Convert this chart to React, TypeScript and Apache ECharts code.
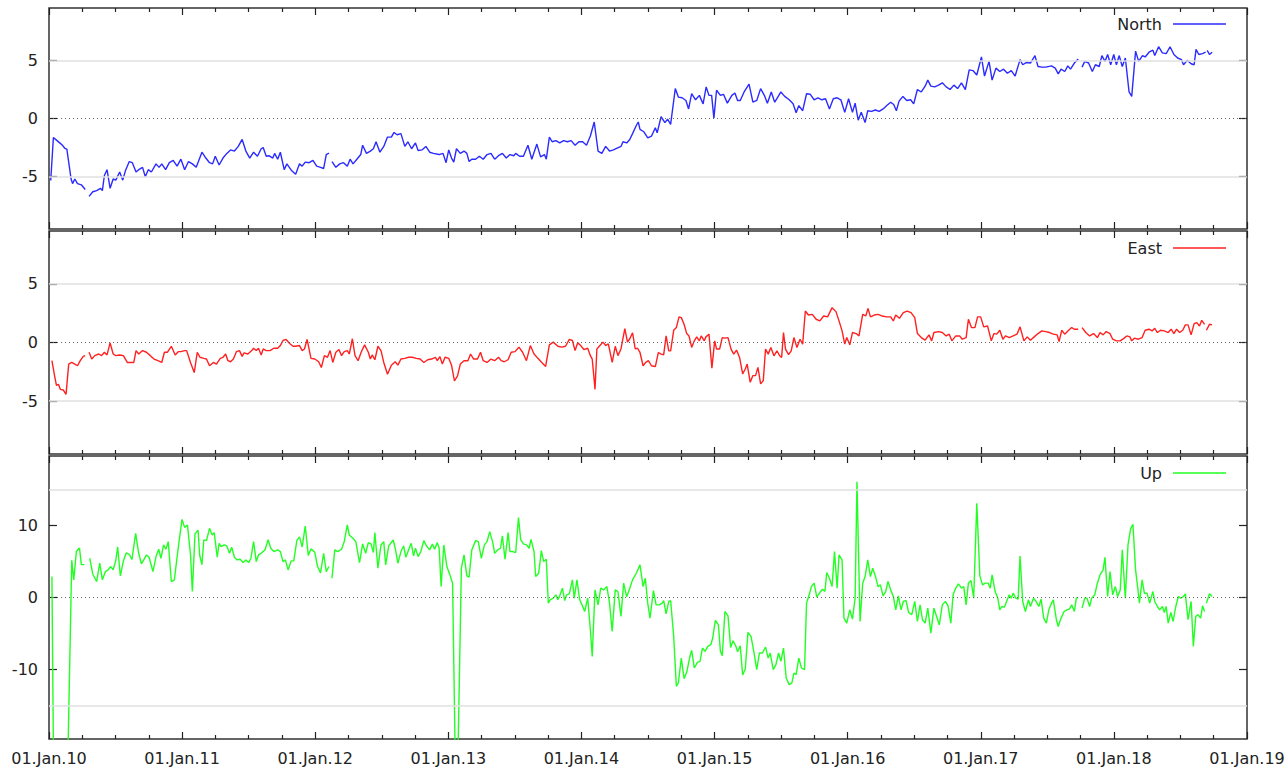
import React, { useEffect, useRef } from "react";
import * as echarts from "echarts";

// Time is given in years after START_YEAR; null marks a gap in the record.
const START_YEAR = 2010;
const END_YEAR = 2019;

const northData: [number, number | null][] = [
  [0.013,-5.33],[0.033,-1.64],[0.056,-1.86],[0.085,-2.14],[0.099,-2.28],[0.119,-2.56],[0.134,-2.64],[0.166,-5.2],[0.177,-5.6],[0.194,-5.2],[0.214,-5.6],[0.243,-5.7],[0.272,-6.1],[0.287,null],[0.301,-6.7],[0.329,-6.3],[0.358,-6.2],[0.387,-6.0],[0.401,-6.2],[0.416,-4.9],[0.436,-4.4],[0.459,-6.0],[0.482,-5.2],[0.502,-5.3],[0.531,-4.6],[0.554,-5.3],[0.574,-4.5],[0.603,-3.7],[0.626,-3.8],[0.654,-4.6],[0.674,-4.4],[0.703,-4.2],[0.723,-5.0],[0.746,-4.4],[0.769,-4.6],[0.804,-3.9],[0.827,-4.2],[0.847,-3.9],[0.876,-4.4],[0.904,-3.8],[0.933,-3.6],[0.962,-4.1],[0.991,-3.5],
  [1.019,-4.4],[1.048,-3.7],[1.077,-3.9],[1.106,-4.2],[1.149,-2.9],[1.178,-3.4],[1.206,-3.8],[1.229,-3.9],[1.249,-3.25],[1.278,-4.0],[1.307,-3.4],[1.336,-3.0],[1.364,-2.7],[1.393,-2.8],[1.422,-2.4],[1.451,-1.8],[1.479,-2.8],[1.508,-3.4],[1.537,-2.9],[1.566,-3.25],[1.594,-2.6],[1.609,-2.5],[1.632,-3.25],[1.652,-3.2],[1.681,-3.4],[1.695,-3.0],[1.718,-3.5],[1.738,-2.9],[1.767,-4.4],[1.787,-3.9],[1.824,-4.5],[1.853,-4.8],[1.882,-3.9],[1.902,-4.1],[1.925,-3.75],[1.954,-3.8],[1.983,-3.6],
  [2.011,-4.1],[2.040,-4.2],[2.063,-4.3],[2.083,-3.1],[2.103,-2.97],[2.115,null],[2.126,-3.7],[2.155,-4.2],[2.184,-3.9],[2.213,-3.8],[2.241,-4.1],[2.262,-3.5],[2.284,-3.9],[2.313,-3.5],[2.342,-3.1],[2.356,-2.3],[2.385,-3.0],[2.414,-2.8],[2.437,-2.6],[2.457,-2.0],[2.486,-2.9],[2.515,-2.4],[2.543,-1.6],[2.572,-1.6],[2.592,-1.2],[2.615,-1.4],[2.644,-1.3],[2.673,-2.4],[2.696,-2.0],[2.724,-2.6],[2.753,-2.1],[2.773,-2.75],[2.802,-2.7],[2.831,-2.4],[2.860,-2.9],[2.888,-3.0],[2.931,-3.1],[2.960,-3.0],[2.983,-3.8],
  [3.003,-2.7],[3.024,-3.4],[3.041,-3.75],[3.061,-2.6],[3.090,-3.0],[3.118,-2.8],[3.139,-3.0],[3.156,-3.7],[3.176,-3.5],[3.205,-3.5],[3.233,-3.25],[3.262,-3.5],[3.291,-3.1],[3.320,-3.0],[3.348,-3.5],[3.377,-3.2],[3.406,-3.0],[3.435,-3.4],[3.463,-3.1],[3.492,-3.2],[3.506,-3.0],[3.535,-3.25],[3.564,-3.25],[3.598,-2.3],[3.627,-3.5],[3.665,-2.2],[3.693,-3.3],[3.722,-3.1],[3.736,-3.5],[3.759,-1.6],[3.780,-2.0],[3.808,-1.9],[3.837,-2.1],[3.866,-1.9],[3.894,-2.0],[3.923,-1.9],[3.952,-2.3],[3.981,-2.0],
  [4.009,-2.0],[4.038,-2.3],[4.067,-1.5],[4.096,-0.3],[4.125,-2.8],[4.153,-3.0],[4.182,-2.4],[4.211,-2.8],[4.240,-2.7],[4.268,-2.55],[4.297,-2.4],[4.312,-2.0],[4.340,-2.1],[4.363,-1.8],[4.384,-1.3],[4.412,-0.6],[4.427,-0.3],
  [4.440,-0.94],[4.469,-1.14],[4.498,-1.67],[4.526,-1.52],[4.555,-0.79],[4.569,-1.23],[4.598,0.15],[4.627,-0.35],[4.647,-0.06],[4.670,-0.5],[4.705,2.57],[4.728,1.84],[4.756,1.78],[4.785,1.55],[4.805,0.82],[4.828,2.13],[4.857,1.61],[4.886,1.99],[4.914,1.26],[4.937,2.72],[4.958,1.99],[4.978,1.99],[4.995,0.03],
  [5.015,2.43],[5.044,1.99],[5.067,2.08],[5.096,1.32],[5.130,1.99],[5.153,2.19],[5.173,1.55],[5.193,1.55],[5.222,2.28],[5.259,2.95],[5.288,1.40],[5.317,1.55],[5.346,2.57],[5.374,1.99],[5.397,1.32],[5.426,2.28],[5.452,1.40],[5.475,1.84],[5.498,2.28],[5.527,1.90],[5.561,1.61],[5.590,1.26],[5.613,0.50],[5.633,1.11],[5.662,0.67],[5.691,2.13],[5.719,2.08],[5.748,1.61],[5.777,1.78],[5.806,1.61],[5.834,1.70],[5.863,0.82],[5.892,1.70],[5.921,1.78],[5.949,1.61],[5.978,0.53],
  [6.007,1.70],[6.036,0.53],[6.056,1.32],[6.079,-0.15],[6.102,0.53],[6.131,-0.35],[6.151,0.67],[6.179,0.61],[6.208,0.73],[6.237,0.61],[6.266,0.82],[6.294,1.11],[6.323,1.40],[6.346,1.20],[6.366,0.67],[6.386,1.49],[6.415,1.90],[6.444,1.55],[6.473,1.61],[6.496,1.26],[6.524,2.49],[6.553,2.28],[6.582,2.78],[6.602,3.30],[6.625,2.78],[6.654,2.72],[6.683,2.87],[6.711,3.07],[6.740,2.72],[6.769,2.49],[6.798,2.87],[6.826,2.57],[6.855,3.07],[6.884,2.49],[6.913,4.18],[6.941,4.12],[6.970,3.74],
  [7.005,5.29],[7.028,3.65],[7.062,4.91],[7.085,3.30],[7.114,4.33],[7.143,4.04],[7.171,4.24],[7.200,3.89],[7.229,4.12],[7.258,3.65],[7.295,5.06],[7.315,4.62],[7.344,4.82],[7.373,4.77],[7.407,5.41],[7.430,4.47],[7.459,4.42],[7.488,4.42],[7.531,4.53],[7.559,4.33],[7.582,3.83],[7.603,4.24],[7.631,4.04],[7.654,4.53],[7.674,4.24],[7.703,4.77],[7.732,5.12],[7.746,null],[7.761,4.42],[7.781,4.91],[7.810,4.77],[7.838,4.04],[7.861,4.62],[7.890,4.47],[7.910,5.41],[7.933,4.91],[7.953,5.50],[7.976,4.62],
  [7.999,5.50],[8.019,4.62],[8.040,5.41],[8.063,4.47],[8.086,5.20],[8.114,2.28],[8.134,1.90],[8.163,5.79],[8.186,4.91],[8.215,5.41],[8.235,5.29],[8.264,5.70],[8.293,5.88],[8.307,5.41],[8.336,6.17],[8.364,5.64],[8.393,5.58],[8.422,6.17],[8.451,5.50],[8.479,5.20],[8.508,5.06],[8.523,4.62],[8.551,5.00],[8.580,4.71],[8.603,4.62],[8.617,5.94],[8.638,5.50],[8.666,5.58],[8.689,5.70],[8.695,null],[8.701,5.85],[8.718,5.50],[8.738,5.70],
];

const eastData: [number, number | null][] = [
  [0.022,-1.55],[0.042,-2.84],[0.056,-3.65],[0.071,-3.56],[0.085,-3.99],[0.108,-4.05],[0.128,-4.42],[0.148,-1.84],[0.171,-1.70],[0.194,-1.84],[0.214,-1.98],[0.235,-1.55],[0.257,-1.18],[0.272,-1.12],[0.287,null],[0.301,-0.83],[0.321,-1.41],[0.344,-1.12],[0.373,-0.98],[0.395,-1.12],[0.416,-0.83],[0.436,-1.06],[0.459,-0.03],[0.482,-0.98],[0.502,-1.12],[0.531,-1.06],[0.559,-1.12],[0.588,-1.70],[0.617,-1.70],[0.637,-1.70],[0.654,-0.69],[0.674,-0.98],[0.703,-0.69],[0.732,-0.83],[0.761,-1.12],[0.789,-1.41],[0.818,-1.55],[0.847,-1.70],[0.867,-0.83],[0.890,-0.83],[0.919,-0.32],[0.948,-1.06],[0.971,-0.78],[0.991,-0.78],
  [1.019,-0.69],[1.034,-0.69],[1.063,-1.70],[1.091,-2.56],[1.114,-0.83],[1.134,-1.26],[1.163,-1.35],[1.183,-1.41],[1.206,-1.98],[1.235,-1.70],[1.258,-1.84],[1.287,-1.35],[1.307,-1.26],[1.327,-0.98],[1.344,-1.55],[1.364,-1.64],[1.385,-1.41],[1.408,-0.78],[1.431,-0.69],[1.451,-1.18],[1.465,-0.89],[1.494,-0.98],[1.523,-0.69],[1.537,-0.49],[1.557,-0.69],[1.574,-0.49],[1.594,-1.06],[1.609,-0.55],[1.632,-0.69],[1.661,-0.69],[1.689,-0.49],[1.718,-0.49],[1.738,-0.26],[1.758,0.17],[1.781,0.26],[1.810,-0.11],[1.833,-0.32],[1.853,-0.32],[1.882,-0.26],[1.902,-0.69],[1.919,-0.55],[1.939,0.26],[1.968,-1.35],[1.997,-1.41],
  [2.026,-1.64],[2.046,-2.13],[2.069,-1.12],[2.092,-1.26],[2.112,-0.69],[2.132,-1.70],[2.155,-0.83],[2.178,-0.60],[2.198,-1.12],[2.218,-0.78],[2.241,-0.69],[2.256,-0.98],[2.279,0.32],[2.299,-1.12],[2.322,-1.55],[2.345,-0.83],[2.371,-0.20],[2.399,-0.83],[2.414,-1.41],[2.428,-1.06],[2.448,-1.47],[2.471,-0.32],[2.494,-0.69],[2.515,-1.70],[2.543,-2.70],[2.572,-1.93],[2.601,-1.64],[2.621,-1.93],[2.644,-1.41],[2.673,-1.35],[2.701,-1.26],[2.730,-1.26],[2.759,-1.35],[2.788,-1.41],[2.816,-1.70],[2.845,-1.47],[2.874,-1.41],[2.903,-1.26],[2.917,-1.55],[2.937,-1.21],[2.955,-1.84],[2.975,-1.26],
  [3.003,-1.35],[3.024,-1.93],[3.046,-3.28],[3.069,-2.84],[3.090,-1.84],[3.118,-1.55],[3.147,-1.55],[3.167,-0.98],[3.190,-1.41],[3.219,-1.41],[3.242,-0.83],[3.262,-1.55],[3.291,-1.70],[3.320,-1.41],[3.348,-1.55],[3.377,-1.26],[3.397,-1.55],[3.420,-1.64],[3.449,-1.47],[3.472,-0.83],[3.501,-0.78],[3.530,-0.40],[3.558,-0.83],[3.587,-1.55],[3.616,-0.26],[3.644,-0.98],[3.673,-1.35],[3.702,-1.70],[3.731,-2.04],[3.759,-0.20],[3.788,0.03],[3.823,-0.32],[3.851,-0.40],[3.880,-0.32],[3.909,0.26],[3.932,0.17],[3.952,-0.69],[3.972,-0.03],[3.995,-0.26],
  [4.018,-0.60],[4.047,-0.49],[4.067,-1.12],[4.081,-1.41],[4.102,-3.99],[4.116,-0.55],[4.139,-0.26],[4.162,0.03],[4.182,-0.26],[4.202,-0.11],[4.231,-1.70],[4.254,-0.32],[4.274,-1.12],[4.297,-0.55],[4.326,1.18],[4.346,0.03],[4.363,0.32],[4.384,0.83],[4.404,-0.55],[4.421,-0.49],
  [4.440,-0.85],[4.463,-1.98],[4.483,-1.69],[4.503,-1.55],[4.526,-1.98],[4.555,-2.06],[4.578,-0.85],[4.598,-0.99],[4.618,-1.04],[4.636,0.56],[4.656,-0.71],[4.670,-0.71],[4.693,1.04],[4.713,1.27],[4.733,2.18],[4.750,2.12],[4.771,1.55],[4.791,0.76],[4.808,0.56],[4.828,-0.42],[4.848,0.14],[4.866,0.48],[4.886,0.14],[4.900,0.56],[4.923,0.14],[4.935,0.48],[4.958,0.71],[4.980,-2.18],
  [5.001,0.14],[5.015,-0.56],[5.038,-0.56],[5.058,0.42],[5.078,0.37],[5.101,0.42],[5.124,-0.56],[5.144,-0.99],[5.165,-0.65],[5.188,-1.27],[5.211,-2.68],[5.231,-2.26],[5.245,-1.84],[5.268,-3.39],[5.288,-2.82],[5.308,-2.82],[5.326,-2.12],[5.346,-3.53],[5.366,-3.25],[5.383,-0.56],[5.403,-0.99],[5.423,-0.42],[5.446,-1.13],[5.469,-0.71],[5.489,-1.13],[5.504,-1.27],[5.518,0.85],[5.533,-0.56],[5.556,-1.04],[5.576,-0.71],[5.596,0.42],[5.619,-0.42],[5.642,0.28],[5.662,-0.14],[5.682,2.68],[5.705,2.34],[5.734,2.40],[5.763,1.98],[5.791,1.84],[5.820,2.26],[5.849,2.18],[5.883,2.97],[5.912,2.63],[5.935,1.84],[5.958,0.99],[5.978,-0.14],[5.993,0.42],
  [6.016,-0.20],[6.036,0.85],[6.064,0.76],[6.085,0.56],[6.113,2.40],[6.136,2.26],[6.153,2.91],[6.171,2.18],[6.200,2.34],[6.228,2.40],[6.257,2.26],[6.294,2.18],[6.323,2.18],[6.343,1.84],[6.361,2.34],[6.389,2.06],[6.418,2.54],[6.447,2.68],[6.476,2.54],[6.504,2.12],[6.524,0.76],[6.553,0.42],[6.582,0.20],[6.611,0.65],[6.631,0.14],[6.648,0.85],[6.683,0.93],[6.711,0.85],[6.740,0.56],[6.763,0.71],[6.783,0.14],[6.812,0.56],[6.841,0.56],[6.861,0.28],[6.890,0.42],[6.907,1.98],[6.930,1.27],[6.956,1.27],[6.976,2.18],[6.999,2.18],
  [7.022,1.33],[7.051,1.41],[7.079,0.14],[7.099,0.76],[7.120,0.71],[7.143,1.04],[7.166,0.28],[7.186,0.56],[7.214,0.42],[7.243,0.56],[7.272,0.71],[7.295,1.33],[7.324,0.14],[7.349,0.48],[7.373,0.20],[7.401,0.48],[7.430,0.76],[7.459,0.99],[7.488,0.93],[7.516,0.85],[7.545,0.71],[7.574,0.65],[7.588,0.08],[7.608,1.04],[7.631,0.71],[7.660,1.04],[7.683,1.27],[7.703,1.13],[7.732,1.13],[7.746,null],[7.761,1.27],[7.789,0.85],[7.818,0.56],[7.847,0.76],[7.876,0.42],[7.896,0.85],[7.919,0.65],[7.942,0.93],[7.971,0.76],[7.991,0.28],
  [8.019,0.14],[8.048,0.14],[8.077,0.37],[8.097,0.56],[8.120,0.48],[8.134,0.14],[8.154,0.37],[8.183,0.28],[8.212,0.42],[8.235,1.04],[8.264,1.13],[8.287,0.99],[8.307,1.21],[8.327,0.85],[8.350,1.04],[8.379,0.99],[8.408,0.85],[8.430,1.13],[8.451,0.76],[8.471,1.13],[8.494,0.85],[8.517,1.04],[8.537,1.50],[8.557,1.50],[8.580,0.65],[8.603,1.61],[8.623,1.69],[8.643,1.41],[8.660,1.89],[8.681,1.55],[8.688,null],[8.695,1.04],[8.718,1.55],[8.738,1.50],
];

const upData: [number, number | null][] = [
  [0.022,2.91],[0.045,-47],[0.085,-45],[0.125,-38],[0.171,5.17],[0.186,2.45],[0.206,6.42],[0.229,6.88],[0.243,4.57],[0.266,4.57],[0.287,null],[0.306,5.45],[0.329,3.23],[0.358,2.22],[0.381,4.76],[0.401,2.45],[0.424,3.60],[0.444,3.83],[0.464,4.30],[0.482,3.83],[0.502,5.17],[0.516,7.02],[0.536,3.00],[0.559,5.08],[0.580,6.19],[0.603,6.00],[0.623,5.27],[0.651,8.91],[0.674,6.14],[0.694,4.67],[0.712,5.22],[0.732,5.91],[0.752,5.59],[0.781,3.60],[0.804,5.68],[0.824,6.70],[0.841,5.45],[0.861,7.30],[0.878,6.70],[0.896,7.76],[0.919,2.22],[0.942,2.45],[0.962,5.59],[0.999,10.85],
  [1.019,9.74],[1.040,10.07],[1.063,5.99],[1.077,0.83],[1.097,8.87],[1.120,9.33],[1.132,5.87],[1.149,4.57],[1.163,8.01],[1.183,7.90],[1.206,9.61],[1.226,8.68],[1.241,9.01],[1.264,5.59],[1.278,7.53],[1.293,7.07],[1.316,7.30],[1.336,7.16],[1.356,6.14],[1.373,6.97],[1.393,5.59],[1.413,5.22],[1.436,5.31],[1.459,4.85],[1.479,5.22],[1.500,4.85],[1.517,5.45],[1.537,7.76],[1.557,4.99],[1.574,5.91],[1.594,6.14],[1.623,6.61],[1.646,8.01],[1.666,6.84],[1.689,6.38],[1.718,6.61],[1.738,6.38],[1.758,4.99],[1.776,5.22],[1.796,3.83],[1.819,5.08],[1.839,5.08],[1.862,7.94],[1.882,8.41],[1.902,7.02],[1.925,9.93],[1.948,5.82],[1.968,6.75],[1.997,6.28],
  [2.017,4.34],[2.040,3.42],[2.063,6.14],[2.083,3.60],[2.103,4.30],[2.115,null],[2.126,2.68],[2.147,6.61],[2.169,6.38],[2.198,6.70],[2.218,7.76],[2.241,10.07],[2.256,8.68],[2.284,8.22],[2.305,7.76],[2.333,4.85],[2.356,7.44],[2.379,6.14],[2.399,7.62],[2.419,7.44],[2.437,6.24],[2.448,9.01],[2.471,4.07],[2.494,7.30],[2.515,7.76],[2.529,4.53],[2.552,7.16],[2.586,7.99],[2.601,6.84],[2.621,4.76],[2.644,6.38],[2.664,7.16],[2.681,5.59],[2.701,6.61],[2.721,7.53],[2.739,5.77],[2.753,6.84],[2.773,5.68],[2.793,6.38],[2.816,7.90],[2.836,7.16],[2.860,6.61],[2.880,7.44],[2.897,6.70],[2.917,7.62],[2.931,6.84],[2.946,1.52],[2.966,7.30],[2.989,4.30],
  [3.012,3.14],[3.032,1.99],[3.061,-33.5],[3.098,4.07],[3.118,5.91],[3.139,3.00],[3.156,2.82],[3.176,6.61],[3.205,7.90],[3.225,7.76],[3.248,5.45],[3.271,7.30],[3.291,7.76],[3.311,9.14],[3.334,7.62],[3.348,6.14],[3.371,6.61],[3.392,6.84],[3.406,8.55],[3.426,5.31],[3.449,9.01],[3.463,6.38],[3.484,6.38],[3.506,6.24],[3.527,11.09],[3.544,7.99],[3.564,7.44],[3.587,7.30],[3.607,6.84],[3.621,8.08],[3.644,6.38],[3.656,2.91],[3.679,3.37],[3.699,6.51],[3.716,4.99],[3.736,5.31],[3.751,-0.79],[3.765,-0.32],[3.788,-0.09],[3.808,0.37],[3.823,-0.32],[3.837,0.23],[3.857,1.29],[3.874,-0.42],[3.889,0.37],[3.909,0.51],[3.932,2.45],[3.946,-0.09],[3.966,2.45],[3.987,-0.32],
  [4.004,-1.02],[4.024,-1.94],[4.047,-0.09],[4.067,-4.48],[4.081,-8.18],[4.102,1.06],[4.125,-1.02],[4.145,1.29],[4.168,1.06],[4.191,1.52],[4.211,-0.79],[4.231,-4.71],[4.254,1.06],[4.274,0.83],[4.297,-2.63],[4.317,1.99],[4.340,0.09],[4.363,1.29],[4.384,2.45],[4.412,3.37],
  [4.440,4.53],[4.463,1.52],[4.480,2.68],[4.498,-0.79],[4.515,-2.86],[4.541,0.97],[4.561,-1.02],[4.584,-1.02],[4.607,-0.79],[4.618,-0.42],[4.636,-2.26],[4.656,-0.55],[4.670,-0.42],[4.693,-5.40],[4.713,-12.33],[4.728,-11.87],[4.750,-8.41],[4.771,-11.27],[4.791,-10.35],[4.814,-8.27],[4.828,-7.34],[4.848,-9.79],[4.871,-9.01],[4.891,-8.87],[4.909,-7.02],[4.929,-7.48],[4.949,-6.79],[4.972,-6.56],[4.986,-5.63],
  [5.006,-3.19],[5.029,-3.79],[5.044,-7.48],[5.058,-8.08],[5.078,-1.94],[5.101,-2.54],[5.121,-6.93],[5.139,-6.00],[5.159,-6.70],[5.173,-7.53],[5.193,-6.70],[5.211,-10.76],[5.231,-9.93],[5.251,-4.85],[5.274,-5.40],[5.297,-7.71],[5.317,-10.02],[5.337,-7.71],[5.360,-7.71],[5.383,-6.88],[5.403,-8.41],[5.418,-7.71],[5.441,-10.02],[5.461,-9.33],[5.481,-7.71],[5.498,-8.87],[5.518,-7.02],[5.538,-11.18],[5.561,-12.10],[5.581,-11.87],[5.596,-10.49],[5.613,-10.72],[5.633,-8.41],[5.653,-9.79],[5.676,-10.02],[5.691,-0.79],[5.711,0.37],[5.728,1.52],[5.748,1.99],[5.768,0.05],[5.791,0.69],[5.811,1.15],[5.829,0.83],[5.843,3.46],[5.863,2.68],[5.883,1.52],[5.901,6.37],[5.921,1.29],[5.935,5.91],[5.958,5.22],[5.972,-2.86],[5.993,-3.56],
  [6.016,-1.71],[6.036,-3.00],[6.056,-0.09],[6.070,16.07],[6.093,-3.33],[6.113,1.99],[6.131,2.91],[6.151,5.22],[6.171,2.91],[6.188,4.07],[6.208,3.00],[6.228,1.52],[6.246,1.75],[6.266,0.23],[6.286,0.83],[6.303,2.22],[6.323,1.06],[6.343,0.14],[6.361,-1.71],[6.381,0.23],[6.401,-1.71],[6.418,-0.55],[6.438,-0.42],[6.458,-2.08],[6.481,-2.40],[6.504,-0.55],[6.524,-3.33],[6.544,-1.02],[6.562,-3.09],[6.582,-3.56],[6.602,-1.48],[6.625,-4.94],[6.648,-1.48],[6.668,-2.63],[6.688,-3.79],[6.711,-1.02],[6.734,-0.55],[6.754,-1.15],[6.775,-3.56],[6.792,0.37],[6.812,1.29],[6.832,1.89],[6.855,1.29],[6.872,1.52],[6.890,-1.02],[6.907,1.99],[6.927,2.36],[6.947,-0.09],[6.970,13.07],[6.993,3.00],
  [7.013,1.75],[7.033,1.99],[7.056,1.99],[7.071,1.29],[7.085,3.14],[7.108,0.83],[7.128,-0.09],[7.143,-1.71],[7.157,-1.25],[7.177,-1.34],[7.194,-0.55],[7.214,0.37],[7.229,-0.09],[7.243,0.60],[7.263,-0.09],[7.281,-0.23],[7.295,5.77],[7.315,-0.55],[7.335,-1.94],[7.358,-0.32],[7.373,-1.25],[7.396,-0.09],[7.416,-0.55],[7.436,-1.25],[7.453,-0.23],[7.473,-2.86],[7.493,-3.56],[7.511,-1.71],[7.531,-0.79],[7.545,-0.32],[7.568,-3.09],[7.582,-4.02],[7.603,-2.86],[7.626,-1.94],[7.646,-1.71],[7.666,-1.62],[7.683,-1.02],[7.703,-1.94],[7.718,-0.09],[7.732,0.00],[7.746,null],[7.761,-1.48],[7.781,-0.09],[7.798,-0.09],[7.818,-1.25],[7.833,-0.09],[7.856,0.37],[7.876,1.99],[7.896,3.14],[7.919,3.83],[7.933,5.59],[7.953,0.14],[7.971,3.60],[7.991,0.37],
  [8.011,1.52],[8.028,0.14],[8.048,1.06],[8.063,6.61],[8.086,-0.09],[8.106,7.30],[8.126,9.56],[8.143,10.16],[8.163,3.83],[8.178,1.52],[8.192,-0.79],[8.212,2.45],[8.229,0.60],[8.249,0.60],[8.269,-0.79],[8.293,0.83],[8.307,-0.55],[8.327,-1.25],[8.344,-1.71],[8.364,-1.25],[8.379,-2.08],[8.393,-1.25],[8.408,-3.56],[8.428,-2.08],[8.445,-3.33],[8.465,-1.25],[8.485,0.14],[8.502,-0.09],[8.523,0.14],[8.537,0.51],[8.557,-3.09],[8.580,-0.55],[8.597,-6.79],[8.615,-2.63],[8.632,-2.40],[8.652,-2.86],[8.666,-1.15],[8.681,-1.94],[8.688,null],[8.695,-0.79],[8.718,0.51],[8.738,0.14],
];

const panelNames = ["North", "East", "Up"];
const panelColors = ["#2b2bff", "#ff2020", "#22ff22"];
const panelData = [northData, eastData, upData];
const panelRange = [9.5, 9.5, 19.65];
const panelTicks = [[-5, 0, 5], [-5, 0, 5], [-10, 0, 10]];
const panelRefLines = [5, 5, 15];

const FONT = "DejaVu Sans";
const TEXT = "#222";

export default function App() {
  const ref = useRef<HTMLDivElement>(null);
  useEffect(() => {
    if (!ref.current) return;
    const chart = echarts.init(ref.current, undefined, { renderer: "svg" });
    const gridBoxes = [
      { left: 49, top: 8, width: 1198, height: 221 },
      { left: 49, top: 231, width: 1198, height: 223 },
      { left: 49, top: 456, width: 1198, height: 283 },
    ];
    const legendY = [24, 248, 473];
    const tickStyle = { color: TEXT, width: 1.2 };

    const xAxes: any[] = [];
    const yAxes: any[] = [];
    const series: any[] = [];
    const graphic: any[] = [];

    gridBoxes.forEach((_, i) => {
      const isLast = i === gridBoxes.length - 1;
      const xBase = {
        type: "value",
        gridIndex: i,
        min: START_YEAR,
        max: END_YEAR,
        interval: 1,
        axisLine: { show: false, onZero: false },
        axisTick: { show: true, inside: true, length: 7, lineStyle: tickStyle },
        minorTick: { show: true, splitNumber: 4, length: 4, lineStyle: tickStyle },
        splitLine: { show: false },
        minorSplitLine: { show: false },
      };
      xAxes.push({
        ...xBase,
        position: "bottom",
        axisLabel: isLast
          ? {
              show: true,
              margin: 11,
              fontSize: 16,
              fontFamily: FONT,
              color: TEXT,
              showMinLabel: true,
              showMaxLabel: true,
              formatter: (v: number) => "01.Jan." + String(v).slice(2),
            }
          : { show: false },
      });
      xAxes.push({ ...xBase, position: "top", axisLabel: { show: false } });

      const yBase = {
        type: "value",
        gridIndex: i,
        min: -panelRange[i],
        max: panelRange[i],
        axisLine: { show: false, onZero: false },
        axisTick: { show: true, inside: true, length: 8, lineStyle: tickStyle, customValues: panelTicks[i] },
        splitLine: { show: false },
      };
      yAxes.push({
        ...yBase,
        position: "left",
        axisLabel: {
          show: true,
          customValues: panelTicks[i],
          margin: 11,
          fontSize: 16,
          fontFamily: FONT,
          color: TEXT,
        },
      });
      yAxes.push({ ...yBase, position: "right", axisLabel: { show: false } });

      const rl = panelRefLines[i];
      series.push({
        type: "line",
        xAxisIndex: 2 * i,
        yAxisIndex: 2 * i,
        data: [],
        z: 1,
        silent: true,
        markLine: {
          silent: true,
          symbol: "none",
          label: { show: false },
          data: [
            { yAxis: rl, lineStyle: { color: "#e0e0e0", width: 1.5, type: "solid" } },
            { yAxis: -rl, lineStyle: { color: "#e0e0e0", width: 1.5, type: "solid" } },
            { yAxis: 0, lineStyle: { color: "#666", width: 1, type: [1, 3] } },
          ],
        },
      });
      series.push({
        type: "line",
        name: panelNames[i],
        xAxisIndex: 2 * i,
        yAxisIndex: 2 * i,
        data: panelData[i].map(([t, v]) => [START_YEAR + t, v === null ? "-" : v]),
        showSymbol: false,
        symbol: "none",
        connectNulls: false,
        clip: true,
        z: 3,
        lineStyle: { color: panelColors[i], width: 1.4 },
        itemStyle: { color: panelColors[i] },
      });

      graphic.push({
        type: "text",
        x: 1162,
        y: legendY[i],
        style: {
          text: panelNames[i],
          align: "right",
          verticalAlign: "middle",
          font: `16px "${FONT}"`,
          fill: TEXT,
        },
      });
      graphic.push({
        type: "line",
        shape: { x1: 1173, y1: legendY[i], x2: 1226, y2: legendY[i] },
        style: { stroke: panelColors[i], lineWidth: 1.5 },
      });
    });

    chart.setOption({
      animation: false,
      backgroundColor: "#ffffff",
      grid: gridBoxes.map((g) => ({
        ...g,
        show: true,
        borderColor: "#333",
        borderWidth: 1.5,
        backgroundColor: "transparent",
      })),
      xAxis: xAxes,
      yAxis: yAxes,
      series,
      graphic,
    });
    return () => chart.dispose();
  }, []);

  return (
    <div
      ref={ref}
      style={{ position: "absolute", left: 0, top: 0, width: 1288, height: 771 }}
    />
  );
}
